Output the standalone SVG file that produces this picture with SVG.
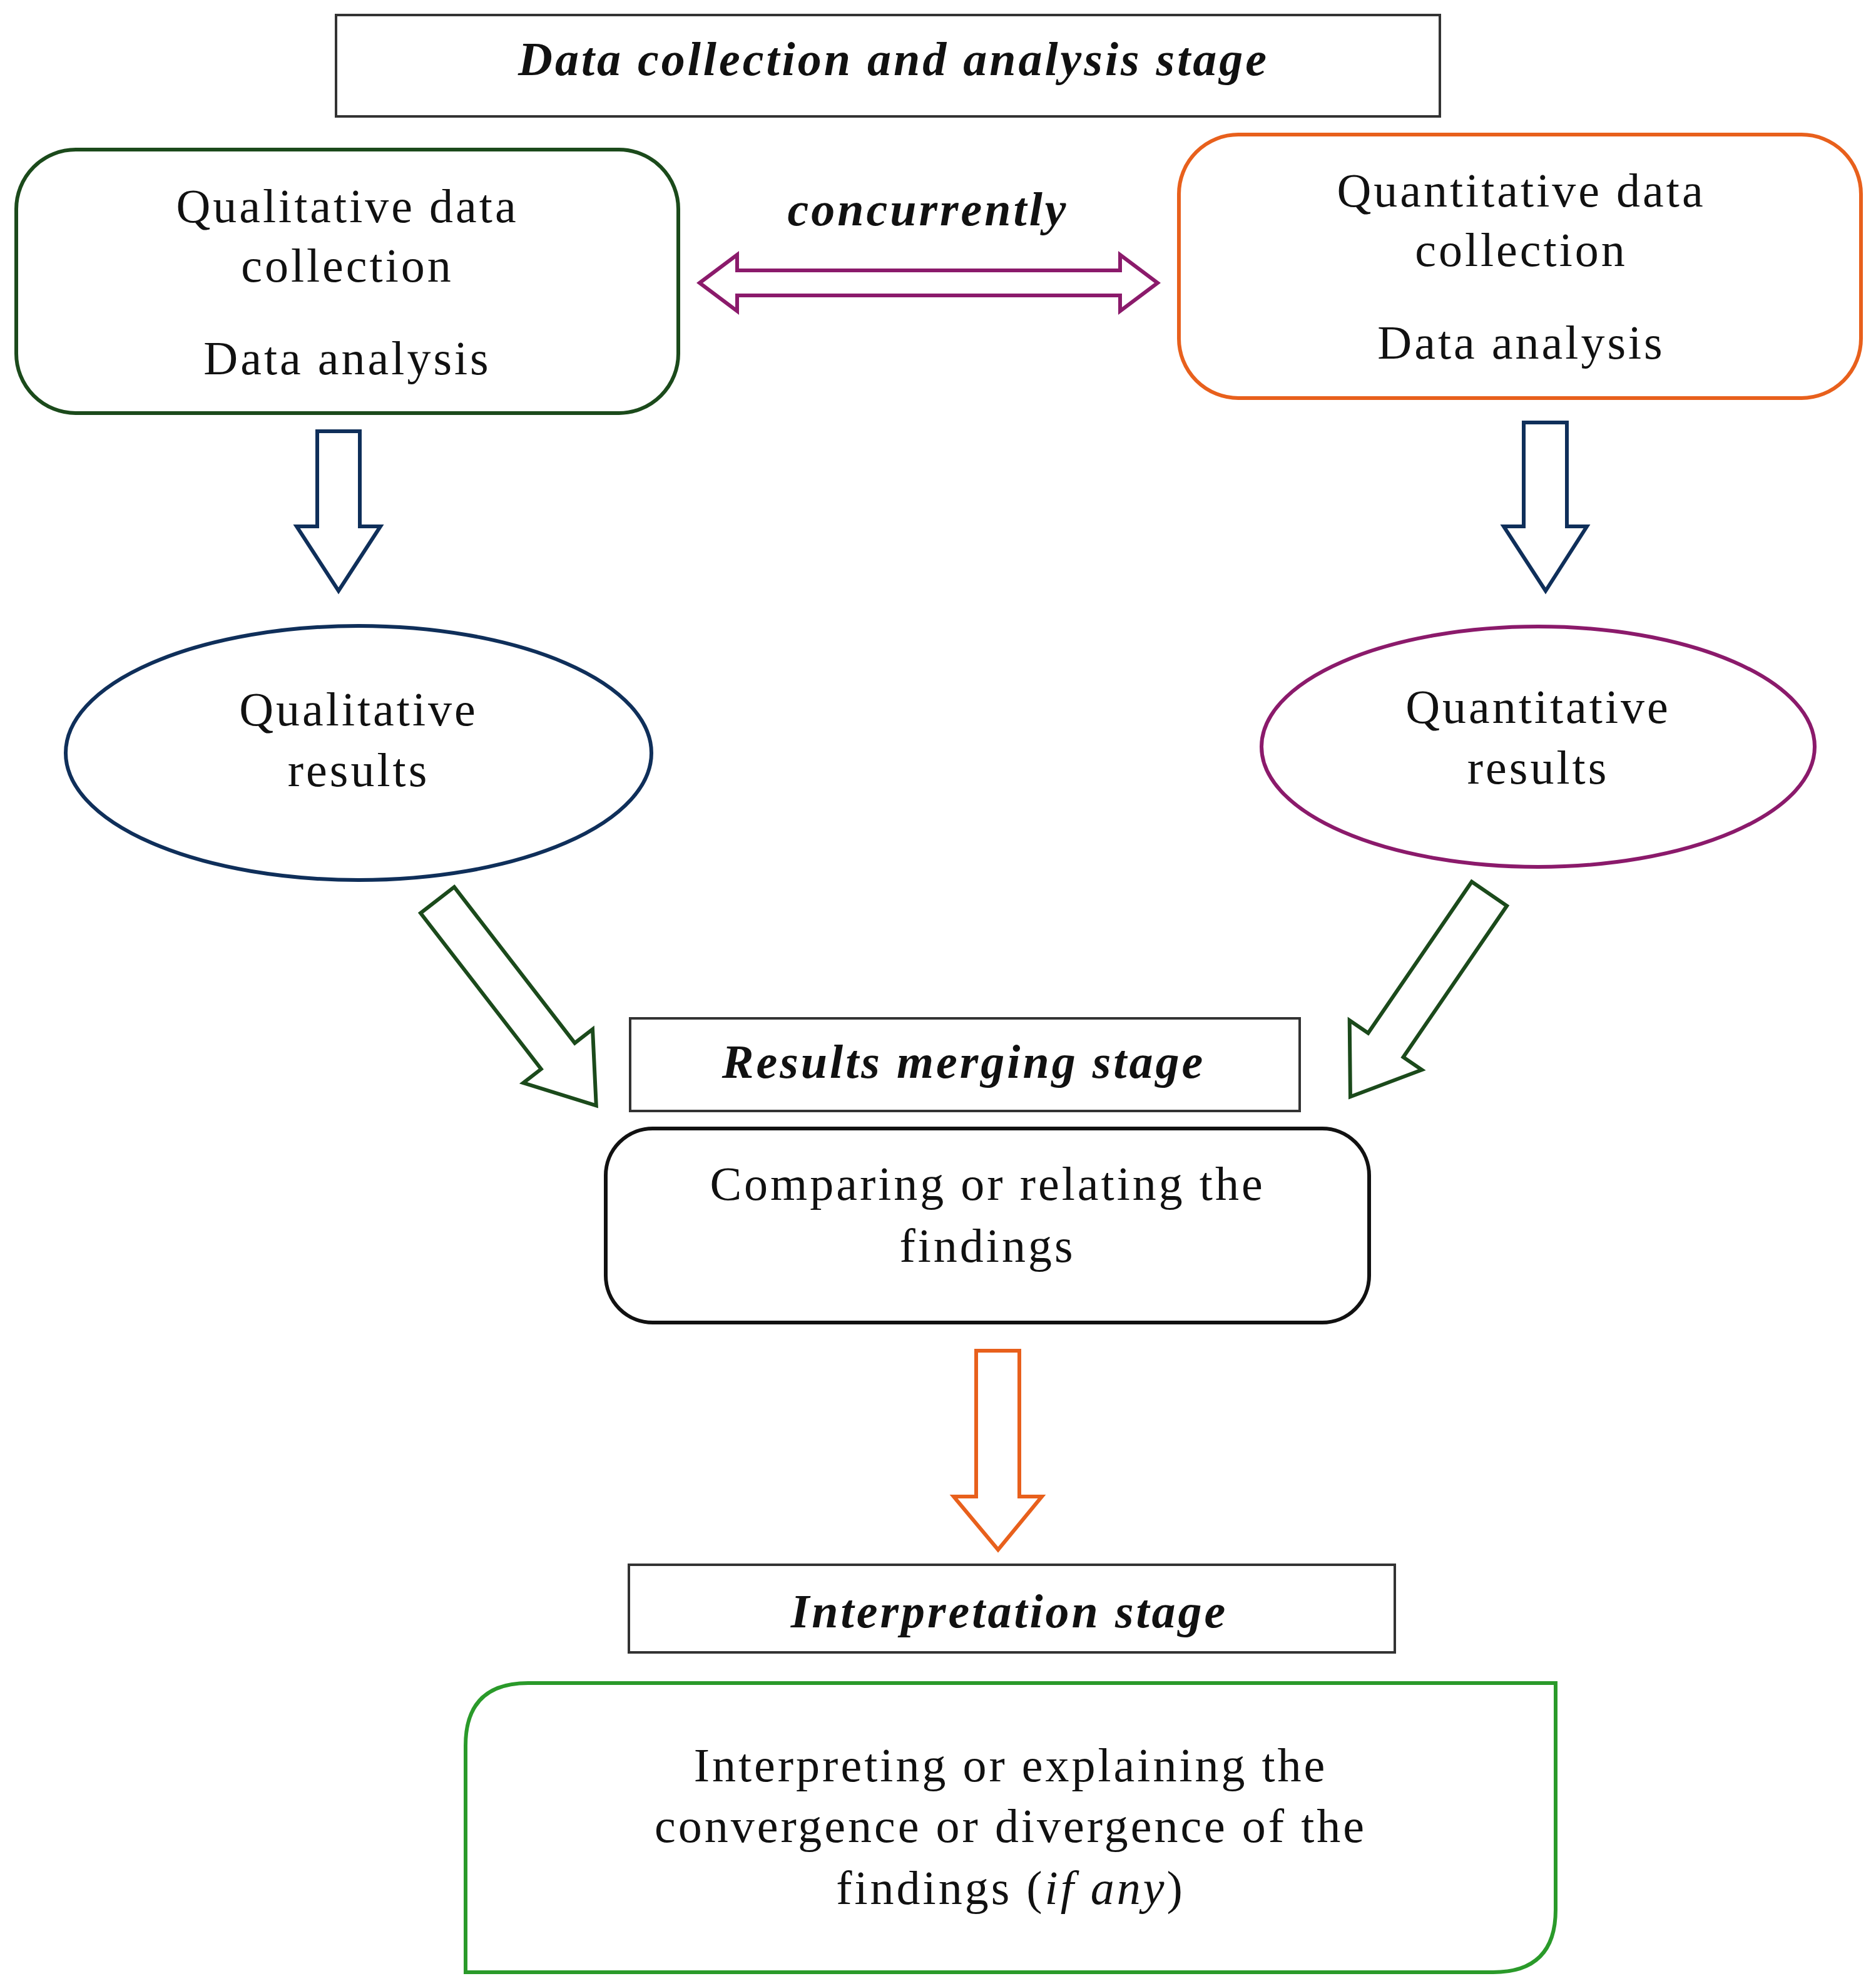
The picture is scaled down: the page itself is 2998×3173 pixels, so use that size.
<svg xmlns="http://www.w3.org/2000/svg" width="2998" height="3173" viewBox="0 0 2998 3173">
<style>
text{font-family:"Liberation Serif","DejaVu Serif",serif;font-size:76px;text-anchor:middle;fill:#111;letter-spacing:4px}
.h{font-weight:bold;font-style:italic}
.box{fill:#fff;stroke:#333;stroke-width:4}
</style>
<rect width="2998" height="3173" fill="#fff"/>
<g id="title"><rect class="box" x="537" y="24" width="1764" height="162"/><text class="h" x="1428" y="120">Data collection and analysis stage</text></g>
<g id="qual"><rect x="26" y="239" width="1058" height="421" rx="95" fill="#fff" stroke="#1b4a1b" stroke-width="6"/>
<text x="555" y="355">Qualitative data</text><text x="555" y="450">collection</text><text x="555" y="598">Data analysis</text></g>
<g id="quant"><rect x="1884" y="215" width="1090" height="421" rx="95" fill="#fff" stroke="#e8601c" stroke-width="6"/>
<text x="2431" y="330">Quantitative data</text><text x="2431" y="425">collection</text><text x="2431" y="573">Data analysis</text></g>
<g id="conc"><text class="h" x="1483" y="360">concurrently</text></g>
<g id="qualres"><ellipse cx="573" cy="1203" rx="468" ry="203" fill="#fff" stroke="#0f2f5a" stroke-width="6"/>
<text x="573" y="1159">Qualitative</text><text x="573" y="1256">results</text></g>
<g id="quantres"><ellipse cx="2458" cy="1193" rx="442" ry="192" fill="#fff" stroke="#8b1a6b" stroke-width="6"/>
<text x="2458" y="1155">Quantitative</text><text x="2458" y="1252">results</text></g>
<g id="merge"><rect class="box" x="1007" y="1627" width="1070" height="148"/><text class="h" x="1540" y="1722">Results merging stage</text></g>
<g id="compare"><rect x="968" y="1803" width="1220" height="310" rx="75" fill="#fff" stroke="#111" stroke-width="6"/>
<text x="1578" y="1917">Comparing or relating the</text><text x="1578" y="2016">findings</text></g>
<g id="interp"><rect class="box" x="1005" y="2500" width="1224" height="140"/><text class="h" x="1613" y="2600">Interpretation stage</text></g>
<g id="final"><path d="M844,2689 H2486 V3051 Q2486,3151 2386,3151 H744 V2789 Q744,2689 844,2689 Z" fill="#fff" stroke="#2a9a2a" stroke-width="6"/>
<text x="1615" y="2846">Interpreting or explaining the</text><text x="1615" y="2943">convergence or divergence of the</text><text x="1615" y="3042">findings (<tspan font-style="italic">if any</tspan>)</text></g>
<g id="connectors" fill="#fff" stroke-width="6" stroke-linejoin="miter">
<polygon stroke="#8b1a6b" points="1118,452 1178,407 1178,432 1790,432 1790,407 1850,452 1790,497 1790,472 1178,472 1178,497"/>
<polygon stroke="#0f2f5a" points="507,689 575,689 575,841 608,841 541,944 474,841 507,841"/>
<polygon stroke="#0f2f5a" points="2435,675 2504,675 2504,841 2536,841 2470,944 2403,841 2435,841"/>
<polygon stroke="#1b4a1b" transform="translate(699,1438) rotate(52.3)" points="0,-34 315,-34 315,-70 415,0 315,70 315,34 0,34"/>
<polygon stroke="#1b4a1b" transform="translate(2380,1428) rotate(124.4)" points="0,-34 293,-34 293,-70 393,0 293,70 293,34 0,34"/>
<polygon stroke="#e8601c" points="1560,2158 1629,2158 1629,2391 1665,2391 1595,2476 1524,2391 1560,2391"/>
</g>
</svg>
